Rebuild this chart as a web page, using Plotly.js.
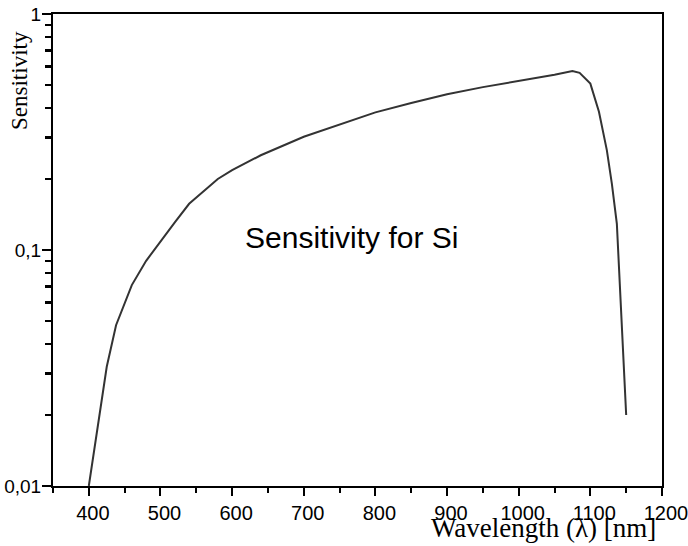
<!DOCTYPE html>
<html>
<head>
<meta charset="utf-8">
<script src="https://cdn.plot.ly/plotly-3.0.1.min.js"></script>
<style>
  html, body { margin: 0; padding: 0; background: #fff; }
  #chart { width: 688px; height: 546px; }
</style>
</head>
<body>
<div id="chart"></div>
<script>
// Spectral sensitivity of a silicon detector
const wavelength = [400, 425, 438, 450, 460, 480, 500, 520, 540, 560, 580, 600, 640,
  700, 750, 800, 850, 900, 950, 1000, 1050, 1075, 1085, 1100, 1112, 1123, 1130, 1137, 1150];
const sensitivity = [0.01, 0.032, 0.048, 0.06, 0.071, 0.09, 0.109, 0.131, 0.157, 0.178, 0.2, 0.218, 0.252,
  0.302, 0.34, 0.383, 0.42, 0.457, 0.49, 0.52, 0.553, 0.573, 0.563, 0.507, 0.385, 0.265, 0.191, 0.129, 0.02];

// y ticks: every 1..9 step of each decade, labelled only at the decades
const yTickVals = [0.01, 0.02, 0.03, 0.04, 0.05, 0.06, 0.07, 0.08, 0.09,
  0.1, 0.2, 0.3, 0.4, 0.5, 0.6, 0.7, 0.8, 0.9, 1];
const yTickText = ['0,01', '', '', '', '', '', '', '', '',
  '0,1', '', '', '', '', '', '', '', '', '1'];
const yDecades = [0.01, 0.1, 1];

const sansFont = 'Liberation Sans, Arial, sans-serif';
const serifFont = 'Liberation Serif, Times New Roman, serif';

const trace = {
  x: wavelength,
  y: sensitivity,
  type: 'scatter',
  mode: 'lines',
  line: { color: '#333333', width: 2 },
  hoverinfo: 'x+y'
};

// same curve on the overlay axis (drawn transparent) so the long decade ticks get an axis
const decadeTrace = {
  x: wavelength,
  y: sensitivity,
  yaxis: 'y2',
  type: 'scatter',
  mode: 'lines',
  line: { color: 'rgba(0,0,0,0)', width: 0 },
  hoverinfo: 'skip',
  showlegend: false
};

const layout = {
  width: 688,
  height: 546,
  margin: { l: 53, r: 26, t: 14, b: 60 },
  paper_bgcolor: '#ffffff',
  plot_bgcolor: '#ffffff',
  showlegend: false,
  xaxis: {
    range: [350, 1200],
    tickmode: 'linear',
    tick0: 0,
    dtick: 100,
    ticks: 'outside',
    ticklen: 8,
    tickwidth: 2,
    tickcolor: '#000',
    ticklabelshift: 4,
    ticklabeloverflow: 'allow',
    showline: true,
    linecolor: '#000',
    linewidth: 2,
    mirror: true,
    showgrid: false,
    zeroline: false,
    tickfont: { family: sansFont, size: 20, color: '#000' },
    minor: { tickmode: 'linear', tick0: 0, dtick: 50, ticks: 'outside', ticklen: 5, tickwidth: 2, tickcolor: '#000', showgrid: false }
  },
  yaxis: {
    type: 'log',
    range: [-2, 0],
    tickmode: 'array',
    tickvals: yTickVals,
    ticktext: yTickText,
    ticks: 'outside',
    ticklen: 6,
    tickwidth: 2.5,
    tickcolor: 'black',
    ticklabeloverflow: 'allow',
    showline: true,
    linecolor: '#000',
    linewidth: 2,
    mirror: true,
    showgrid: false,
    zeroline: false,
    tickfont: { family: sansFont, size: 19, color: '#000' }
  },
  yaxis2: {
    type: 'log',
    range: [-2, 0],
    overlaying: 'y',
    anchor: 'x',
    side: 'left',
    tickmode: 'array',
    tickvals: yDecades,
    ticks: 'outside',
    ticklen: 10,
    tickwidth: 2.5,
    tickcolor: 'black',
    showticklabels: false,
    showline: false,
    showgrid: false,
    zeroline: false
  },
  annotations: [
    {
      text: 'Sensitivity for Si',
      xref: 'x', yref: 'y',
      x: 766, y: Math.log10(0.113),
      showarrow: false,
      font: { family: sansFont, size: 30, color: '#000' }
    },
    {
      text: 'Sensitivity',
      xref: 'paper', yref: 'paper',
      x: -0.056, y: 0.86,
      xanchor: 'center', yanchor: 'middle',
      textangle: -90,
      showarrow: false,
      font: { family: serifFont, size: 23, color: '#000' }
    },
    {
      text: 'Wavelength (λ) [nm]',
      xref: 'paper', yref: 'paper',
      x: 0.805, y: -0.124,
      xanchor: 'center', yanchor: 'bottom',
      showarrow: false,
      font: { family: serifFont, size: 27, color: '#000' }
    }
  ]
};

Plotly.newPlot('chart', [trace, decadeTrace], layout, { displayModeBar: false, staticPlot: true });
</script>
</body>
</html>
